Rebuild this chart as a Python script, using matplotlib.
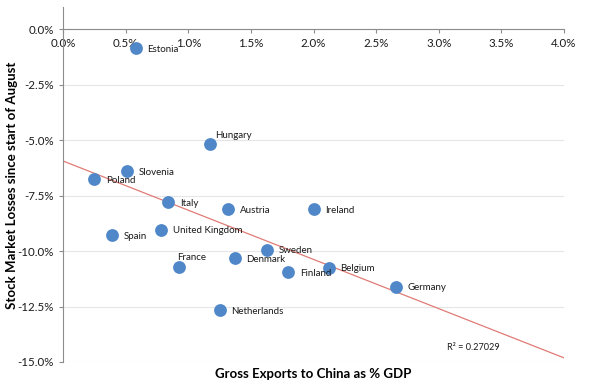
import matplotlib.pyplot as plt
import numpy as np
from matplotlib.ticker import FuncFormatter

countries = ["Estonia", "Hungary", "Slovenia", "Poland", "Italy", "Austria",
             "Spain", "United Kingdom", "France", "Denmark", "Sweden",
             "Netherlands", "Finland", "Ireland", "Belgium", "Germany"]
exports = [0.58, 1.17, 0.51, 0.25, 0.84, 1.32, 0.39, 0.78, 0.93, 1.37, 1.63,
           1.25, 1.80, 2.00, 2.12, 2.66]
losses = [-0.86, -5.18, -6.40, -6.76, -7.80, -8.12, -9.28, -9.05, -10.72,
          -10.32, -9.95, -12.66, -10.95, -8.12, -10.75, -11.60]
r2_text = "R² = 0.27029"

plt.rcParams['font.family'] = ['Lato', 'DejaVu Sans']

fig = plt.figure(figsize=(5.97, 3.90), dpi=100)
ax = fig.add_axes([63 / 597, 1 - 362 / 390, (564 - 63) / 597, (362 - 7) / 390])

ax.set_xlim(0, 4)
ax.set_ylim(-15, 1)
ax.set_yticks(np.arange(-15, 0.1, 2.5))
ax.set_xticks(np.arange(0, 4.01, 0.5))
ax.xaxis.set_major_formatter(FuncFormatter(lambda v, p: "%.1f%%" % v))
ax.yaxis.set_major_formatter(FuncFormatter(lambda v, p: "%.1f%%" % v))

ax.yaxis.grid(True, color="#e6e6e6", linewidth=0.8)
ax.set_axisbelow(True)

ax.spines["top"].set_visible(False)
ax.spines["right"].set_visible(False)
ax.spines["bottom"].set_position(("data", 0))
for s in ["left", "bottom"]:
    ax.spines[s].set_color("#8c8c8c")
    ax.spines[s].set_linewidth(0.8)
ax.tick_params(axis="both", direction="out", length=3, width=0.8,
               color="#8c8c8c", labelsize=8.3, labelcolor="#1a1a1a")
ax.tick_params(axis="x", pad=3.5)

# trendline
slope, intercept = np.polyfit(exports, losses, 1)
xs = np.array([0, 4])
ax.plot(xs, intercept + slope * xs, color="#e07b76", linewidth=0.9, zorder=2)

ax.scatter(exports, losses, s=85, color="#4f87c8", zorder=3, linewidths=0)

offsets = {"Hungary": (4, 6), "France": (-2, 7)}
for name, x, y in zip(countries, exports, losses):
    dx, dy = offsets.get(name, (8.5, -0.7))
    ax.annotate(name, (x, y), xytext=(dx, dy), textcoords="offset points",
                ha="left", va="center", fontsize=7, color="#1a1a1a", zorder=4)

ax.text(447 / 597, 1 - 347 / 390, r2_text, transform=fig.transFigure,
        ha="left", va="center", fontsize=6.6, color="#1a1a1a")

fig.text(313 / 597, 1 - 374 / 390, "Gross Exports to China as % GDP",
         ha="center", va="center", fontsize=9.5, fontweight="bold")
fig.text(12.5 / 597, 1 - 185 / 390, "Stock Market Losses since start of August",
         ha="center", va="center", rotation=90, fontsize=9.5, fontweight="bold")

fig.savefig("out.png", dpi=100)
